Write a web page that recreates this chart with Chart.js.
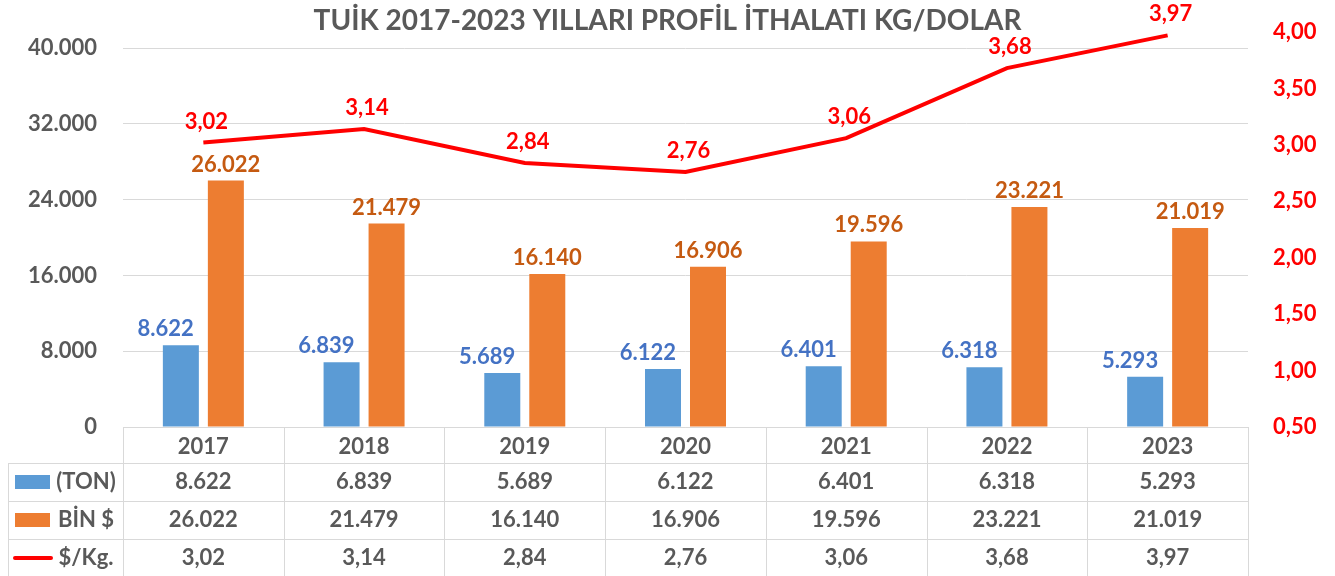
<!DOCTYPE html>
<html>
<head>
<meta charset="utf-8">
<script src="https://cdn.jsdelivr.net/npm/chart.js@4"></script>
<style>
html, body { margin: 0; padding: 0; background: #fff; }
</style>
</head>
<body>
<canvas id="myChart" width="1335" height="576"></canvas>
<script>
// chart data
var years = ['2017', '2018', '2019', '2020', '2021', '2022', '2023'];
var tonValues = [8622, 6839, 5689, 6122, 6401, 6318, 5293];
var binDolarValues = [26022, 21479, 16140, 16906, 19596, 23221, 21019];
var dolarKgValues = [3.02, 3.14, 2.84, 2.76, 3.06, 3.68, 3.97];
var leftTicks = [0, 8000, 16000, 24000, 32000, 40000];
var rightTicks = [0.5, 1, 1.5, 2, 2.5, 3, 3.5, 4];
var seriesNames = ['(TON)', 'BİN $', '$/Kg.'];
var chartTitle = 'TUİK 2017-2023 YILLARI PROFİL İTHALATI KG/DOLAR';

var FONT = 'Lato, "Open Sans", sans-serif';

// 40000 -> "40.000"
function fmtInt(n){
    return String(n).replace(/\B(?=(\d{3})+(?!\d))/g, '.');
}
// 3.02 -> "3,02"
function fmtDec(n){
    return n.toFixed(2).replace('.', ',');
}

// labels above bars and line points
var valueLabels = {
    id: 'valueLabels',
    afterDatasetsDraw: function(chart){
        var ctx = chart.ctx;
        ctx.save();
        ctx.font = 'bold 22px ' + FONT;
        ctx.textBaseline = 'alphabetic';

        // blue bars - label pulled to the left like excel does
        chart.getDatasetMeta(1).data.forEach(function(bar, i){
            ctx.fillStyle = '#4472C4';
            ctx.textAlign = 'right';
            ctx.fillText(fmtInt(tonValues[i]), bar.x + bar.width / 2 - 5, bar.y - 9);
        });
        // orange bars
        chart.getDatasetMeta(2).data.forEach(function(bar, i){
            ctx.fillStyle = '#C55A11';
            ctx.textAlign = 'center';
            ctx.fillText(fmtInt(binDolarValues[i]), bar.x, bar.y - 9);
        });
        // red line
        chart.getDatasetMeta(0).data.forEach(function(pt, i){
            ctx.fillStyle = '#FF0000';
            ctx.textAlign = 'center';
            ctx.fillText(fmtDec(dolarKgValues[i]), pt.x + 3, pt.y - 14);
        });
        ctx.restore();
    }
};

// data table under the plot
var dataTable = {
    id: 'dataTable',
    afterDraw: function(chart){
        var ctx = chart.ctx;
        var area = chart.chartArea;
        var xs = chart.scales.x;
        var colW = (area.right - area.left) / years.length;
        var headTop = area.bottom;
        var rowTops = [463, 501, 539, 577];
        var tableLeft = 8;

        ctx.save();
        ctx.strokeStyle = '#D9D9D9';
        ctx.lineWidth = 1;
        ctx.beginPath();
        // x axis line / header top
        ctx.moveTo(area.left, headTop + 0.5);
        ctx.lineTo(area.right, headTop + 0.5);
        // row lines
        for (var r = 0; r < rowTops.length; r++){
            ctx.moveTo(tableLeft, rowTops[r] + 0.5);
            ctx.lineTo(area.right, rowTops[r] + 0.5);
        }
        // column lines
        for (var c = 0; c <= years.length; c++){
            var cx = Math.round(area.left + c * colW) + 0.5;
            ctx.moveTo(cx, headTop);
            ctx.lineTo(cx, 576);
        }
        ctx.moveTo(tableLeft + 0.5, rowTops[0]);
        ctx.lineTo(tableLeft + 0.5, 576);
        ctx.stroke();

        // values
        var rows = [
            tonValues.map(fmtInt),
            binDolarValues.map(fmtInt),
            dolarKgValues.map(fmtDec)
        ];
        ctx.font = 'bold 22px ' + FONT;
        ctx.fillStyle = '#595959';
        ctx.textAlign = 'center';
        ctx.textBaseline = 'middle';
        for (var r = 0; r < rows.length; r++){
            var midY = (rowTops[r] + rowTops[r + 1]) / 2;
            for (var i = 0; i < years.length; i++){
                ctx.fillText(rows[r][i], xs.getPixelForValue(i), midY);
            }
            ctx.fillText(seriesNames[r], 86, midY);
        }

        // legend keys
        var mid0 = (rowTops[0] + rowTops[1]) / 2;
        var mid1 = (rowTops[1] + rowTops[2]) / 2;
        var mid2 = (rowTops[2] + rowTops[3]) / 2;
        ctx.fillStyle = '#5B9BD5';
        ctx.fillRect(15, mid0 - 7, 35, 14);
        ctx.fillStyle = '#ED7D31';
        ctx.fillRect(15, mid1 - 7, 35, 14);
        ctx.strokeStyle = '#FF0000';
        ctx.lineWidth = 4;
        ctx.lineCap = 'round';
        ctx.beginPath();
        ctx.moveTo(15, mid2);
        ctx.lineTo(51, mid2);
        ctx.stroke();
        ctx.restore();
    }
};

// y axes: fixed width, and no extra top padding so the plot starts under the title
function fitVertical(width){
    return function(scale){
        scale.width = width;
        scale.paddingTop = 0;
        scale.paddingBottom = 0;
    };
}

function drawChart(){
    var ctx = document.getElementById('myChart');
    var myChart = new Chart(ctx, {
        type: 'bar',
        data: {
            labels: years,
            datasets: [{
                type: 'line',
                label: seriesNames[2],
                data: dolarKgValues,
                yAxisID: 'y1',
                borderColor: '#FF0000',
                borderWidth: 4,
                pointRadius: 0,
                tension: 0,
                order: 0
            }, {
                label: seriesNames[0],
                data: tonValues,
                yAxisID: 'y',
                backgroundColor: '#5B9BD5',
                categoryPercentage: 0.56,
                barPercentage: 0.8,
                order: 1
            }, {
                label: seriesNames[1],
                data: binDolarValues,
                yAxisID: 'y',
                backgroundColor: '#ED7D31',
                categoryPercentage: 0.56,
                barPercentage: 0.8,
                order: 1
            }]
        },
        options: {
            responsive: false,
            animation: false,
            layout: { padding: 0 },
            plugins: {
                legend: { display: false },
                tooltip: { enabled: false },
                title: {
                    display: true,
                    text: chartTitle,
                    color: '#595959',
                    font: { family: FONT, size: 28, weight: 'bold', lineHeight: '22px' },
                    padding: { top: 10, bottom: 0 }
                }
            },
            scales: {
                x: {
                    grid: { display: false, drawTicks: false },
                    border: { display: false },
                    ticks: {
                        color: '#595959',
                        padding: 7,
                        font: { family: FONT, size: 22, weight: 'bold' }
                    },
                    afterFit: function(scale){ scale.height = 149; }
                },
                y: {
                    position: 'left',
                    min: 0,
                    max: 41700,
                    grid: { color: '#D9D9D9', drawTicks: false },
                    border: { display: false },
                    ticks: {
                        color: '#595959',
                        padding: 26,
                        font: { family: FONT, size: 22, weight: 'bold' },
                        callback: function(v){ return fmtInt(v); }
                    },
                    afterBuildTicks: function(scale){
                        scale.ticks = leftTicks.map(function(v){ return { value: v }; });
                    },
                    afterFit: fitVertical(123)
                },
                y1: {
                    position: 'right',
                    min: 0.5,
                    max: 4,
                    grid: { display: false, drawTicks: false },
                    border: { display: false },
                    ticks: {
                        color: '#FF0000',
                        padding: 25,
                        font: { family: FONT, size: 22, weight: 'bold' },
                        callback: function(v){ return fmtDec(v); }
                    },
                    afterBuildTicks: function(scale){
                        scale.ticks = rightTicks.map(function(v){ return { value: v }; });
                    },
                    afterFit: fitVertical(87)
                }
            }
        },
        plugins: [valueLabels, dataTable]
    });
}

drawChart();
</script>
</body>
</html>
